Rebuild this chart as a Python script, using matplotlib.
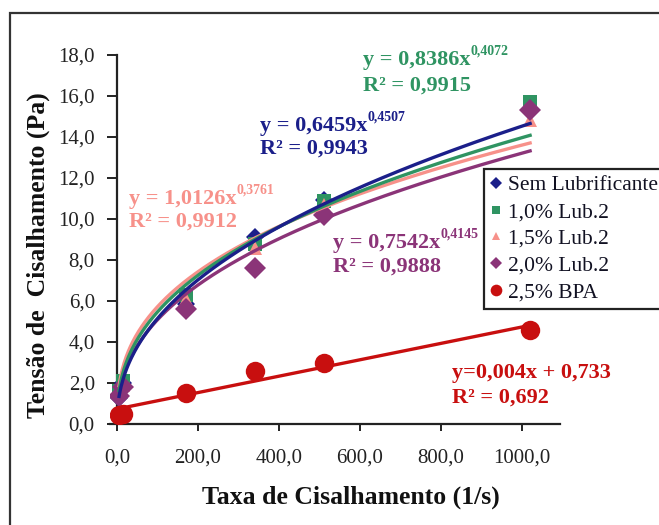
import numpy as np
import matplotlib
matplotlib.use("Agg")
import matplotlib.pyplot as plt
from matplotlib.lines import Line2D
from matplotlib.patches import Rectangle

W, H = 659, 525
SERIF = ["Liberation Serif", "DejaVu Serif"]
plt.rcParams['font.family'] = SERIF

# ---------------- data ----------------
x_rate = [5.1, 15.0, 170.0, 340.0, 510.0, 1020.0]
y_sem = [1.25, 2.0, 5.85, 9.1, 10.95, 15.35]
y_10 = [1.6, 2.1, 6.3, 8.8, 10.9, 15.7]
y_15 = [1.5, 1.9, 6.1, 8.6, 10.7, 14.85]
y_20 = [1.35, 1.8, 5.6, 7.6, 10.2, 15.3]
y_bpa = [0.45, 0.5, 1.5, 2.6, 3.0, 4.6]

labels = ["Sem Lubrificante", "1,0% Lub.2", "1,5% Lub.2", "2,0% Lub.2", "2,5% BPA"]
colors = ["#1b1f8a", "#2f9462", "#f7918a", "#8b3478", "#c80f0f"]
markers = ["D", "s", "^", "D", "o"]
msizes = [9.5, 10, 10, 11, 14]

# trendline coefficients (as printed on chart)
pow_a = [0.6459, 0.8386, 1.0126, 0.7542]
pow_b = [0.4507, 0.4072, 0.3761, 0.4145]
lin_m, lin_c = 0.004, 0.733

eq_main = ["y = 0,6459x", "y = 0,8386x", "y = 1,0126x", "y = 0,7542x"]
eq_sup = ["0,4507", "0,4072", "0,3761", "0,4145"]
eq_r2 = ["R\u00b2 = 0,9943", "R\u00b2 = 0,9915", "R\u00b2 = 0,9912", "R\u00b2 = 0,9888"]
lin_eq = "y=0,004x + 0,733"
lin_r2 = "R\u00b2 = 0,692"

xticks = [0, 200, 400, 600, 800, 1000]
xtick_labels = ["0,0", "200,0", "400,0", "600,0", "800,0", "1000,0"]
yticks = [0, 2, 4, 6, 8, 10, 12, 14, 16, 18]
ytick_labels = ["0,0", "2,0", "4,0", "6,0", "8,0", "10,0", "12,0", "14,0", "16,0", "18,0"]

# ---------------- figure ----------------
fig = plt.figure(figsize=(W / 100, H / 100), dpi=100)

def fx(px):
    return px / W

def fy(py):
    return 1 - py / H

# outer frame
fig.patches.append(Rectangle((fx(9.5), fy(700)), 2.0, (700 - 12.5) / H,
                             transform=fig.transFigure, fill=False,
                             edgecolor="#333333", linewidth=1.6, zorder=0))

ax_l, ax_r, ax_t, ax_b = 110, 560, 55, 424
ax = fig.add_axes([fx(ax_l), fy(ax_b), (ax_r - ax_l) / W, (ax_b - ax_t) / H])
ax.set_xlim(-17.3, 1093.8)
ax.set_ylim(0, 18)
ax.patch.set_alpha(0)
for s in ["top", "right"]:
    ax.spines[s].set_visible(False)
ax.spines["left"].set_position(("data", 0))
for s in ["left", "bottom"]:
    ax.spines[s].set_linewidth(1.6)
    ax.spines[s].set_color("#222222")

ax.set_xticks(xticks)
ax.set_xticklabels(xtick_labels)
ax.set_yticks(yticks)
ax.set_yticklabels(ytick_labels)
ax.tick_params(axis="x", direction="out", length=5, width=1.4, pad=13,
               labelsize=15, colors="#222222")
ax.tick_params(axis="y", direction="out", length=7, width=1.4, pad=9,
               labelsize=15, colors="#222222")

series = [y_sem, y_10, y_15, y_20, y_bpa]

# markers
for ys, c, m, ms in zip(series, colors, markers, msizes):
    ax.plot(x_rate, ys, linestyle="none", marker=m, color=c, markersize=ms,
            markeredgewidth=0, zorder=3)

# trendlines
xt = np.linspace(x_rate[0], x_rate[-1], 400)
order = [3, 2, 1, 0]
for i in order:
    ax.plot(xt, pow_a[i] * xt ** pow_b[i], color=colors[i], linewidth=2.4, zorder=4)
ax.plot(xt, lin_m * xt + lin_c, color=colors[4], linewidth=2.4, zorder=4)

# equations
FS = 16
eq_pos = [(260, 126, 149), (363, 60, 86), (129, 199, 222), (333, 243, 267)]
for i, (px, py1, py2) in enumerate(eq_pos):
    t = fig.text(fx(px), fy(py1), eq_main[i], color=colors[i], fontsize=FS,
                 fontweight="bold", ha="left", va="center")
    ax.annotate(eq_sup[i], xy=(1.0, 0.62), xycoords=t, color=colors[i],
                fontsize=10, fontweight="bold", ha="left", va="bottom")
    fig.text(fx(px), fy(py2), eq_r2[i], color=colors[i], fontsize=FS,
             fontweight="bold", ha="left", va="center")
fig.text(fx(452), fy(373), lin_eq, color=colors[4], fontsize=FS,
         fontweight="bold", ha="left", va="center")
fig.text(fx(452), fy(398), lin_r2, color=colors[4], fontsize=FS,
         fontweight="bold", ha="left", va="center")

# axis labels
fig.text(fx(38), fy(255), "Tensão de  Cisalhamento (Pa)", rotation=90,
         fontsize=18.5, fontweight="bold", ha="center", va="center", color="#111111")
fig.text(fx(351), fy(497), "Taxa de Cisalhamento (1/s)",
         fontsize=18.5, fontweight="bold", ha="center", va="center", color="#111111")

# legend
handles = [Line2D([], [], linestyle="none", marker=m, color=c,
                  markersize=ms * 0.6, markeredgewidth=0)
           for c, m, ms in zip(colors, markers, msizes)]
leg = ax.legend(handles, labels, loc="upper left",
                bbox_to_anchor=(fx(484), fy(169)), bbox_transform=fig.transFigure,
                fontsize=15.5, frameon=True, fancybox=False, framealpha=1,
                edgecolor="#222222", handlelength=0.55, handletextpad=0.3,
                labelspacing=0.32, borderpad=0.28, borderaxespad=0)
leg.get_frame().set_linewidth(1.6)
for txt in leg.get_texts():
    txt.set_color("#111122")
leg.set_zorder(10)

fig.savefig("out.png", dpi=100)
